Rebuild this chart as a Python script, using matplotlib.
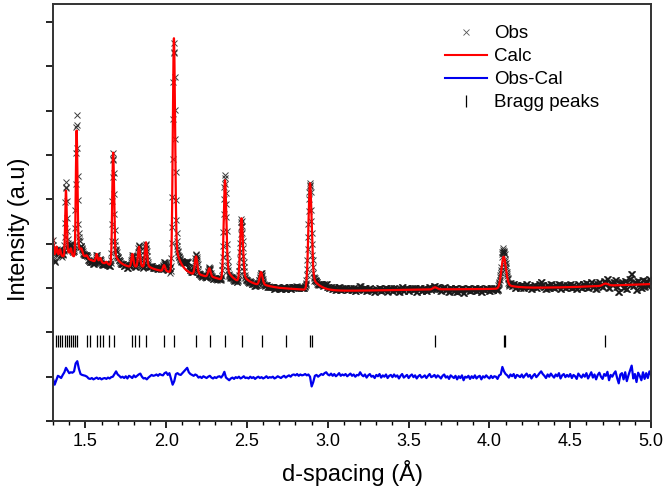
import numpy as np
import matplotlib
matplotlib.use('Agg')
from matplotlib import pyplot as plt
from matplotlib.ticker import MultipleLocator
from matplotlib.lines import Line2D

plt.rcParams['font.family'] = ['Liberation Sans', 'DejaVu Sans']

# background level of the pattern (d-spacing, intensity)
bg_d = [1.30, 1.50, 1.65, 1.75, 1.90, 2.03, 2.30, 2.45, 2.70, 3.00, 3.50, 4.00, 4.50, 5.00]
bg_i = [3.72, 3.64, 3.52, 3.48, 3.42, 3.35, 3.22, 3.10, 3.00, 2.93, 2.96, 2.98, 3.02, 3.09]

# fitted peaks: position and height above background
peak_d = [1.298, 1.322, 1.343, 1.380, 1.410, 1.446, 1.476, 1.508, 1.570, 1.592, 1.630,
          1.672, 1.791, 1.832, 1.875, 1.987, 2.048, 2.185, 2.267, 2.364, 2.466, 2.587,
          2.890, 3.663, 4.088, 4.718]
peak_h = [0.45, 0.20, 0.15, 1.50, 0.15, 2.87, 0.10, 0.06, 0.18, 0.10, 0.05,
          2.54, 0.30, 0.47, 0.58, 0.14, 5.29, 0.42, 0.20, 2.26, 1.45, 0.30,
          2.41, 0.05, 0.72, 0.05]

# reflection positions
bragg_d = [1.321, 1.333, 1.346, 1.358, 1.371, 1.384, 1.397, 1.410, 1.423, 1.435, 1.448,
           1.510, 1.529, 1.570, 1.590, 1.609, 1.644, 1.676, 1.786, 1.807, 1.833, 1.878,
           1.988, 2.048, 2.187, 2.269, 2.363, 2.468, 2.594, 2.739, 2.888, 2.904, 3.663,
           4.088, 4.094, 4.718]

# obs - calc, every 0.01 A from 1.30 to 5.00 (hundredths of a y unit)
diff_d = np.round(np.arange(1.30, 5.005, 0.01), 2)
diff_v = [
    -5, -18, -8, 2, 0, -3, 4, 10, 20, 14,
    8, 10, 9, 12, 30, 35, 18, 6, 4, 3,
    2, 0, -4, -5, -3, -6, -4, -2, -5, -3,
    -6, -4, -3, -5, -2, -4, -1, 0, 6, 12,
    5, 2, -2, 0, -3, 1, -4, 2, 0, -3,
    3, -1, 2, 5, 7, 0, -4, -3, -6, -2,
    1, 4, 2, 3, 5, 2, 6, 4, 3, 8,
    10, 4, 8, -5, -18, -10, 6, 8, 5, 4,
    8, 12, 16, 20, 10, 6, 4, 2, 5, 3,
    -2, 0, -3, 1, -1, -3, 0, 2, -2, -4,
    -1, -3, 0, 1, -2, 3, 11, -2, -5, -8,
    -4, -2, -5, -1, -3, 0, -4, -2, 1, -3,
    -2, -4, 0, -3, -1, -5, -2, 0, -3, -1,
    -4, -2, 1, -3, -1, -2, 0, -4, -2, 1,
    -1, -3, 0, 2, -2, 1, 3, 0, 4, 5,
    3, 6, 2, 5, 3, 4, 6, 3, 5, 0,
    -22, -12, 2, 4, 0, 3, 6, 4, 8, 10,
    5, 3, 7, 2, 6, 1, 4, 8, 2, 5,
    3, 6, 1, 4, 7, 2, 5, 0, 4, 3,
    10, 4, 1, 5, -2, 3, 6, 0, 2, -3,
    4, 1, 6, -2, 3, 0, 5, -3, 2, 4,
    -1, 5, 0, 3, -4, 2, 6, -2, 1, 4,
    -3, 2, 5, -1, 3, -4, 1, 4, -2, 0,
    3, -3, 2, 6, -1, 1, 4, -2, 3, 0,
    -4, 2, 5, -2, 1, -5, 3, 0, -3, 2,
    -6, 1, -3, 3, -8, 0, -2, 2, -5, 1,
    -3, 3, -4, 0, 2, -6, 1, -2, 3, -1,
    -4, 2, -3, 1, 0, -5, 3, 5, 22, 12,
    6, 3, -2, 5, 1, 6, -3, 4, 2, -1,
    5, -2, 3, 7, 0, 4, -4, 2, 6, -1,
    3, 8, 12, 6, 2, -3, 5, 0, 7, 2,
    -2, 5, 1, 8, -4, 3, 6, -1, 4, 0,
    6, -3, 4, 1, -5, 7, 2, -2, 5, 0,
    8, -4, 3, 10, -2, 5, -6, 4, 9, 0,
    -5, 6, 2, 11, -8, 4, 0, 7, 12, -3,
    -15, 5, 8, -6, 10, -10, 3, 14, 25, -4,
    6, -12, 9, 2, -8, 10, -5, 8, -3, 12,
    4]
diff_off = 1.0
bragg_y = 1.81


def calc_profile(d):
    y = np.interp(d, bg_d, bg_i)
    for c, h in zip(peak_d, peak_h):
        s = 0.0034 * c          # gaussian width grows with d (TOF)
        tau = 0.018 * c         # exponential tail on the high-d side
        g = np.exp(-0.5 * ((d - c) / s) ** 2)
        t = np.exp(-np.clip(d - c, 0, None) / tau)
        y = y + h * np.where(d < c, g, 0.85 * g + 0.15 * t)
    return y


d_fine = np.linspace(1.30, 5.00, 3701)
d_obs = np.linspace(1.30, 5.00, 1851)
resid = np.array(diff_v) / 100.0
obs = calc_profile(d_obs) + resid[np.round((d_obs - 1.30) / 0.01).astype(int)]

fig = plt.figure(figsize=(6.63, 4.93), dpi=100)
ax = fig.add_axes([0.080, 0.146, 0.902, 0.846])

ax.plot(d_obs, obs, 'x', color='#1a1a1a', ms=4.5, mew=0.7, alpha=0.85)
ax.plot(d_fine, calc_profile(d_fine), '-', color='red', lw=1.6)
ax.plot(diff_d, diff_off + resid, '-', color='#0000ee', lw=1.6)
ax.plot(bragg_d, [bragg_y] * len(bragg_d), '|', color='black', ms=9, mew=0.9)

ax.set_xlim(1.3, 5.0)
ax.set_ylim(0, 9.41)
ax.xaxis.set_major_locator(MultipleLocator(0.5))
ax.xaxis.set_minor_locator(MultipleLocator(0.1))
ax.set_yticks(np.arange(0, 10))
ax.set_yticklabels([])
ax.tick_params(axis='both', which='major', direction='out', length=5, width=1.2, labelsize=13)
ax.tick_params(axis='x', which='minor', direction='out', length=3, width=1.0)
for sp in ax.spines.values():
    sp.set_linewidth(1.4)
    sp.set_color('#333333')

ax.set_xlabel('d-spacing (Å)', fontsize=17, labelpad=7)
ax.set_ylabel('Intensity (a.u)', fontsize=17)
ax.yaxis.set_label_coords(-0.038, 0.46)

handles = [Line2D([], [], ls='none', marker='x', color='#555555', ms=4, mew=0.6),
           Line2D([], [], color='red', lw=1.5),
           Line2D([], [], color='#0000ee', lw=1.5),
           Line2D([], [], ls='none', marker='|', color='black', ms=9, mew=0.9)]
ax.legend(handles, ['Obs', 'Calc', 'Obs-Cal', 'Bragg peaks'], loc='upper left',
          frameon=False, fontsize=13.5, handlelength=2.2, handletextpad=0.4,
          labelspacing=0.32, bbox_to_anchor=(0.628, 0.99))

fig.savefig('out.png', dpi=100)
